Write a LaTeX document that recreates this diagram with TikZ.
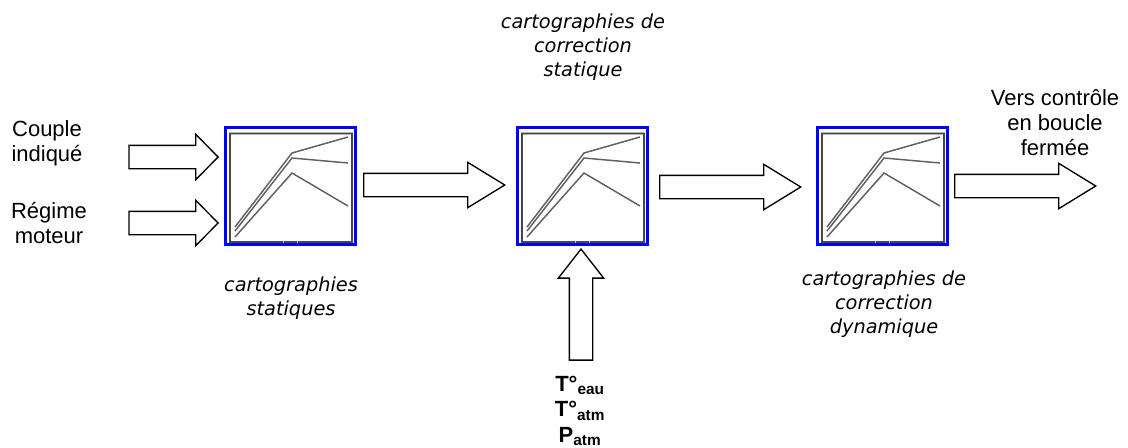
\documentclass[tikz,border=0pt]{standalone}
\usepackage{fontspec}
\setmainfont{DejaVu Sans}
\newfontfamily\subfont{Liberation Sans}
\usetikzlibrary{shapes.arrows}
\tikzset{
	bigarrow/.style = {single arrow, draw, line width = 1pt, fill = white, inner sep = 0pt, text width = 0pt, text height = 16.5pt, text depth = 0pt, minimum width = 33.75pt, single arrow head extend = 8.25pt, single arrow tip angle = 91, anchor = tip},
	longarrow/.style = {bigarrow, minimum height = 105.75pt, single arrow tip angle = 63},
	legend/.style = {align = center, font = \subfont\fontsize{16.5}{18.8}\selectfont},
	itlegend/.style = {align = center, font = \fontsize{14.5}{18.2}\selectfont\itshape},
	mapline/.style = {draw = black!62, line width = 1.1pt}
}
\begin{document}
	\begin{tikzpicture}[x = 0.75pt, y = -0.75pt]
		\useasboundingbox (0,0) rectangle (1128,447);
		
		\foreach \name/\xpos in {mapa/224, mapb/516, mapc/816}{
			\node[draw = blue, line width = 2.2pt, fill = white, minimum width = 97.6pt, minimum height = 87.8pt, inner sep = 0pt, anchor = north west] (\name) at (\xpos,126) {};
			\begin{scope}[shift = {(\xpos,126)}]
				\draw[black!30, line width = 2.2pt] (6,7.5) rectangle (128,116);
				\draw[black!72, line width = 1.1pt] (6,7.5) rectangle (128,116);
				\draw[black!25, line width = 1.2pt] (59,116) -- (60,116) (73,116) -- (74,116);
				\draw[mapline] (11,101) -- (68,27) -- (124,11);
				\draw[mapline] (11,105) -- (68,32) -- (124,37);
				\draw[mapline] (11,111) -- (68,47) -- (124,80);
			\end{scope}
		}
		
		\node[bigarrow, minimum height = 66.75pt] (couple) at (219,157) {};
		\node[bigarrow, minimum height = 66.75pt] (regime) at (219,223) {};
		\node[longarrow] (sortiea) at (506,185) {};
		\node[longarrow] (sortieb) at (802,187) {};
		\node[longarrow] (sortiec) at (1097,186) {};
		\node[bigarrow, minimum height = 83.25pt, single arrow tip angle = 76, rotate = 90] (temp) at (581,248) {};
		
		\node[legend] (lcouple) at (47,143) {Couple\\indiqué};
		\node[legend] (lregime) at (49,223) {Régime\\moteur};
		\node[legend] (lsortie) at (1055,123) {Vers contrôle\\en boucle\\fermée};
		\node[itlegend] (lstat) at (291,298) {cartographies\\statiques};
		\node[itlegend] (lcorr) at (583,47) {cartographies de\\correction\\statique};
		\node[itlegend] (ldyn) at (884,304) {cartographies de\\correction\\dynamique};
		\node[align = center, font = \subfont\bfseries\fontsize{16.5}{19}\selectfont] (lmesure) at (580,411) {T°\textsubscript{eau}\\T°\textsubscript{atm}\\P\textsubscript{atm}};
	\end{tikzpicture}
\end{document}
